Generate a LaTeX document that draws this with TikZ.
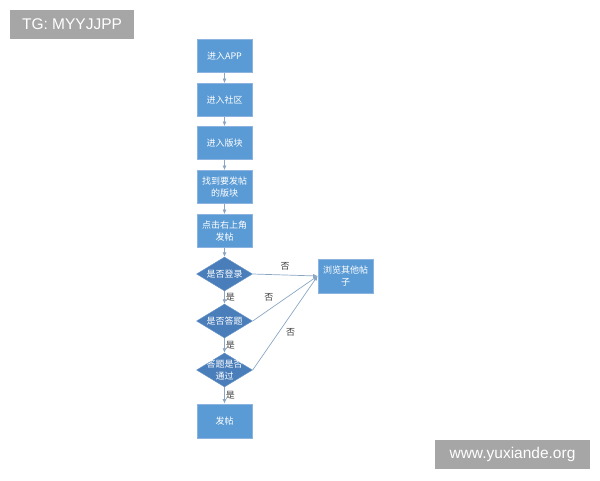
\documentclass[tikz,border=0pt]{standalone}
\usepackage{fontspec}
\newfontfamily\cjk{Noto Sans CJK SC}
\newfontfamily\markfont{Liberation Sans}
\usetikzlibrary{shapes.geometric,arrows.meta}
\definecolor{boxblue}{HTML}{5B9BD5}
\definecolor{boxline}{HTML}{8DB3E0}
\definecolor{askblue}{HTML}{4A7EBB}
\definecolor{flowline}{HTML}{8BA6C4}
\definecolor{markgray}{HTML}{A6A6A6}
\begin{document}
\begin{tikzpicture}[x=1pt,y=-1pt]
                        \tikzstyle{stepbox}=[rectangle, fill=boxblue, draw=boxline, line width=0.8pt, minimum width=55pt, minimum height=33pt, inner sep=1pt, align=center, text=white, font=\cjk\fontsize{9}{11.5}\selectfont]
                        \tikzstyle{ask}=[diamond, fill=askblue, draw=askblue!80!white, minimum width=56pt, minimum height=34pt, inner sep=0pt, aspect=1.65]
                        \tikzstyle{asktext}=[text=white, align=center, font=\cjk\fontsize{9}{11.5}\selectfont]
                        \tikzstyle{flow}=[draw=flowline, line width=0.7pt, -{Latex[length=4.5pt,width=4pt]}]
                        \tikzstyle{answer}=[font=\cjk\fontsize{9}{10}\selectfont, text=black!75, inner sep=1pt]
                        \tikzstyle{watermark}=[fill=markgray, text=white, inner sep=0pt, font=\markfont\fontsize{15.5}{18}\selectfont]
                        \useasboundingbox (0,0) rectangle (600,480);
                        \node[watermark, minimum width=124pt, minimum height=29pt] (tg) at (72,24.5) {TG: MYYJJPP};
                        \node[watermark, minimum width=155pt, minimum height=29pt] (site) at (512.5,454.5) {www.yuxiande.org};
                        \node[stepbox] (app) at (224.5,56) {进入APP};
                        \node[stepbox] (club) at (224.5,100) {进入社区};
                        \node[stepbox] (board) at (224.5,143) {进入版块};
                        \node[stepbox] (find) at (224.5,187) {找到要发帖\\的版块};
                        \node[stepbox] (click) at (224.5,231) {点击右上角\\发帖};
                        \node[ask, label={[asktext]center:是否登录}] (login) at (224.5,274) {};
                        \node[ask, label={[asktext]center:是否答题}] (quiz) at (224.5,321) {};
                        \node[ask, label={[asktext]center:答题是否\\通过}] (pass) at (224.5,370) {};
                        \node[stepbox, minimum height=34pt] (post) at (224.5,421) {发帖};
                        \node[stepbox, minimum height=34pt] (other) at (345.5,276) {浏览其他帖\\子};
                        \draw[flow] (app) -- (club);
                        \draw[flow] (club) -- (board);
                        \draw[flow] (board) -- (find);
                        \draw[flow] (find) -- (click);
                        \draw[flow] (click) -- (login);
                        \draw[flow] (login) -- node[answer, right] {是} (quiz);
                        \draw[flow] (quiz) -- node[answer, right] {是} (pass);
                        \draw[flow] (pass) -- node[answer, right] {是} (post);
                        \draw[flow] (login.east) -- node[answer, above=3pt, pos=0.5] {否} (other.west);
                        \draw[flow] (quiz.east) -- node[answer, above=7pt, pos=0.25] {否} (other.west);
                        \draw[flow] (pass.east) -- node[answer, right=6pt, pos=0.4] {否} (other.west);
                    \end{tikzpicture}
\end{document}
